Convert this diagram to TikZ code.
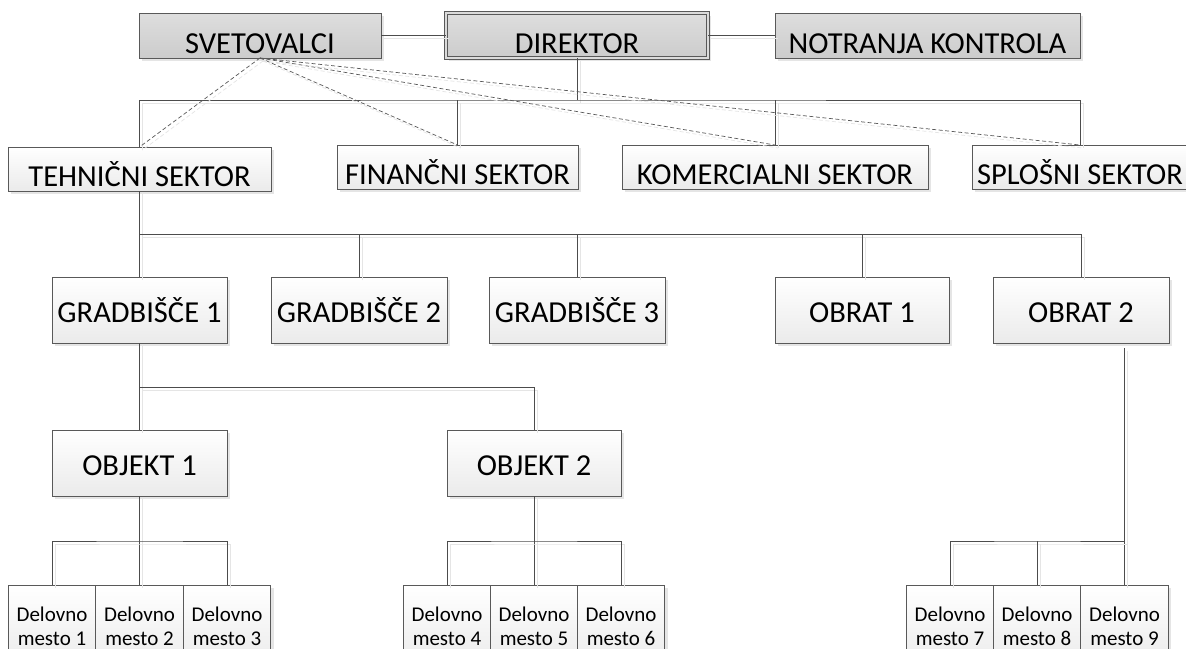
\documentclass[tikz,border=0pt]{standalone}
\usepackage{fontspec}
\setmainfont{Carlito}
\usetikzlibrary{shadows}
\begin{document}
\begin{tikzpicture}[x=1pt,y=-1pt,
  base/.style={rectangle, draw=black!65, line width=0.9pt, inner sep=0pt, outer sep=0pt,
    drop shadow={shadow xshift=3pt, shadow yshift=-3pt, fill=black!10, opacity=1}},
  bigtext/.style={font=\fontsize{30.5}{36}\selectfont},
  greybox/.style={base, bigtext, top color=black!13, bottom color=black!20,
    minimum height=45pt, text height=35pt, text depth=0pt},
  sectorbox/.style={base, bigtext, top color=white, bottom color=black!8,
    minimum height=44pt, text height=34pt, text depth=0pt},
  unitbox/.style={base, bigtext, top color=white, bottom color=black!8,
    minimum height=66pt, text height=24pt, text depth=0pt},
  placebox/.style={base, top color=white, bottom color=black!8,
    minimum width=87.5pt, minimum height=82pt, align=center,
    font=\fontsize{21}{24}\selectfont},
  link/.style={draw=black!70, line width=0.9pt,
    preaction={draw=black!10, line width=0.9pt, transform canvas={shift={(3pt,-3pt)}}}},
  advice/.style={draw=black!65, line width=0.7pt, dash pattern=on 4pt off 2.5pt,
    preaction={draw=black!10, line width=0.7pt, dash pattern=on 4pt off 2.5pt,
      transform canvas={shift={(3pt,-3pt)}}}}
]
\useasboundingbox[fill=white] (0,0) rectangle (1186,648);

% management row
\node[greybox, minimum width=242pt] (sv) at (260,35.5) {SVETOVALCI};
\node[greybox, minimum width=262pt, double=black!14, double distance=1.6pt, line width=0.8pt] (dir) at (577,35.5) {DIREKTOR};
\node[greybox, minimum width=305pt] (nk) at (927.5,35.5) {NOTRANJA KONTROLA};

% sectors
\node[sectorbox, minimum width=263pt] (teh) at (139.5,169) {TEHNIČNI SEKTOR};
\node[sectorbox, minimum width=241pt] (fin) at (457.5,167) {FINANČNI SEKTOR};
\node[sectorbox, minimum width=306pt] (kom) at (775,167) {KOMERCIALNI SEKTOR};
\node[sectorbox, minimum width=216pt] (spl) at (1080,167) {SPLOŠNI SEKTOR};

% sites and plants
\node[unitbox, minimum width=175pt] (g1) at (139.5,310) {GRADBIŠČE 1};
\node[unitbox, minimum width=176pt] (g2) at (359,310) {GRADBIŠČE 2};
\node[unitbox, minimum width=176pt] (g3) at (577,310) {GRADBIŠČE 3};
\node[unitbox, minimum width=174pt] (o1) at (862,310) {OBRAT 1};
\node[unitbox, minimum width=176pt] (o2) at (1081,310) {OBRAT 2};

% objects
\node[unitbox, minimum width=175pt] (ob1) at (139.5,463) {OBJEKT 1};
\node[unitbox, minimum width=174pt] (ob2) at (534,463) {OBJEKT 2};

% work places
\node[placebox] (d1) at (52,626) {Delovno\\mesto 1};
\node[placebox] (d2) at (139.5,626) {Delovno\\mesto 2};
\node[placebox] (d3) at (227,626) {Delovno\\mesto 3};
\node[placebox] (d4) at (447,626) {Delovno\\mesto 4};
\node[placebox] (d5) at (534,626) {Delovno\\mesto 5};
\node[placebox] (d6) at (621,626) {Delovno\\mesto 6};
\node[placebox] (d7) at (950,626) {Delovno\\mesto 7};
\node[placebox] (d8) at (1037,626) {Delovno\\mesto 8};
\node[placebox] (d9) at (1124.5,626) {Delovno\\mesto 9};

% bus junctions
\coordinate (b1) at (577,100);
\coordinate (b2) at (139.5,234);
\coordinate (b3) at (139.5,387);
\coordinate (b4) at (139.5,541);
\coordinate (b5) at (534,541);
\coordinate (b6) at (1037,541);
\coordinate (o2tail) at (1124.5,348);

% staff links
\draw[link] (sv.east) -- (dir.west);
\draw[link] (dir.east) -- (nk.west);

% director to sectors
\draw[link] (dir.south) -- (b1);
\draw[link] (teh.north) |- (b1) -| (spl.north);
\draw[link] (fin.north) -- (fin.north |- b1);
\draw[link] (kom.north) -- (kom.north |- b1);

% technical sector to sites and plants
\draw[link] (teh.south) -- (g1.north);
\draw[link] (b2) -| (o2.north);
\draw[link] (g2.north) -- (g2.north |- b2);
\draw[link] (g3.north) -- (g3.north |- b2);
\draw[link] (o1.north) -- (o1.north |- b2);

% site 1 to objects
\draw[link] (g1.south) -- (ob1.north);
\draw[link] (b3) -| (ob2.north);

% objects to work places
\draw[link] (ob1.south) -- (d2.north);
\draw[link] (d1.north) |- (b4) -| (d3.north);
\draw[link] (ob2.south) -- (d5.north);
\draw[link] (d4.north) |- (b5) -| (d6.north);

% plant 2 to work places
\draw[link] (o2tail) -- (d9.north);
\draw[link] (d7.north) |- (b6) -- (d9.north |- b6);
\draw[link] (b6) -- (d8.north);

% advisers
\draw[advice] (sv.south) -- (teh.north);
\draw[advice] (sv.south) -- (fin.north);
\draw[advice] (sv.south) -- (kom.north);
\draw[advice] (sv.south) -- (spl.north);
\end{tikzpicture}
\end{document}
